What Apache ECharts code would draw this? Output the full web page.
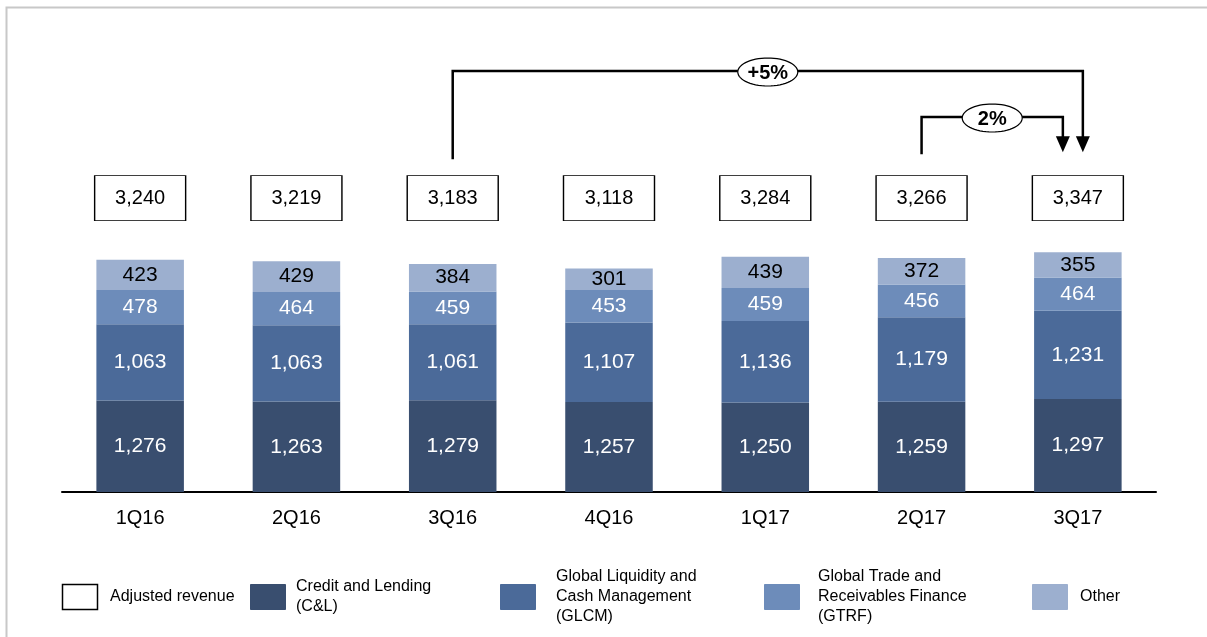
<!DOCTYPE html>
<html>
<head>
<meta charset="utf-8">
<script src="https://cdn.jsdelivr.net/npm/echarts@6/dist/echarts.min.js"></script>
<style>
html,body{margin:0;padding:0;background:#fff;}
#chart{width:1207px;height:637px;}
</style>
</head>
<body>
<div id="chart"></div>
<script>
const categories = ['1Q16', '2Q16', '3Q16', '4Q16', '1Q17', '2Q17', '3Q17'];
const creditLending = [1276, 1263, 1279, 1257, 1250, 1259, 1297];
const glcm = [1063, 1063, 1061, 1107, 1136, 1179, 1231];
const gtrf = [478, 464, 459, 453, 459, 456, 464];
const other = [423, 429, 384, 301, 439, 372, 355];
const adjustedRevenue = [3240, 3219, 3183, 3118, 3284, 3266, 3347];
const growthNotes = [
  { from: '3Q16', to: '3Q17', text: '+5%' },
  { from: '2Q17', to: '3Q17', text: '2%' }
];
const legendItems = [
  { name: 'Adjusted revenue', lines: ['Adjusted revenue'] },
  { name: 'Credit and Lending (C&L)', lines: ['Credit and Lending', '(C&L)'] },
  { name: 'Global Liquidity and Cash Management (GLCM)', lines: ['Global Liquidity and', 'Cash Management', '(GLCM)'] },
  { name: 'Global Trade and Receivables Finance (GTRF)', lines: ['Global Trade and', 'Receivables Finance', '(GTRF)'] },
  { name: 'Other', lines: ['Other'] }
];

const COLORS = ['#394e6f', '#4b6a99', '#6d8cba', '#9cafcf'];
const FONT = 'Liberation Sans, Arial, sans-serif';
const BOX_LEVEL = 4100;
const fmt = v => Number(v).toLocaleString('en-US');

const chart = echarts.init(document.getElementById('chart'), null, { renderer: 'canvas' });

function barSeries(name, data, color, labelColor) {
  return {
    name: name, type: 'bar', stack: 'rev', data: data, barWidth: '56%',
    itemStyle: { color: color },
    label: { show: true, position: 'inside', color: labelColor, fontSize: 21, fontFamily: FONT, formatter: p => fmt(p.value) },
    silent: true
  };
}

chart.setOption({
  animation: false,
  backgroundColor: '#ffffff',
  grid: { left: 62, right: 51, top: 62, bottom: 145 },
  xAxis: {
    type: 'category', data: categories,
    axisLine: { lineStyle: { color: '#000', width: 2 } },
    axisTick: { show: false },
    axisLabel: { color: '#000', fontSize: 20, fontFamily: FONT, margin: 16 }
  },
  yAxis: { type: 'value', min: 0, max: 6000, show: false, splitLine: { show: false } },
  series: [
    barSeries('Credit and Lending (C&L)', creditLending, COLORS[0], '#fff'),
    barSeries('Global Liquidity and Cash Management (GLCM)', glcm, COLORS[1], '#fff'),
    barSeries('Global Trade and Receivables Finance (GTRF)', gtrf, COLORS[2], '#fff'),
    barSeries('Other', other, COLORS[3], '#000'),
    {
      name: 'Adjusted revenue', type: 'scatter',
      data: adjustedRevenue.map((v, i) => ({ value: [categories[i], BOX_LEVEL], total: v })),
      symbol: 'rect', symbolSize: [91, 45],
      itemStyle: { color: '#fff', borderColor: '#000', borderWidth: 1, opacity: 1 },
      label: { show: true, position: 'inside', color: '#000', fontSize: 20, fontFamily: FONT, formatter: p => fmt(p.data.total) },
      silent: true
    }
  ]
});

function px(cat, val) {
  return chart.convertToPixel({ gridIndex: 0 }, [categories.indexOf(cat), val]);
}

function ellipsePoints(cx, cy, rx, ry) {
  const pts = [];
  for (let k = 0; k < 60; k++) {
    const a = (k / 60) * Math.PI * 2;
    pts.push([cx + rx * Math.cos(a), cy + ry * Math.sin(a)]);
  }
  return pts;
}

const graphics = [];
// frame
graphics.push({ type: 'rect', shape: { x: 6.5, y: 7.5, width: 1300, height: 700 }, style: { fill: null, stroke: '#c8c8c8', lineWidth: 2 }, silent: true });

// growth brackets
const bracketCfg = [
  { levelY: 71, startOff: 16, arrowDx: 5 },
  { levelY: 117, startOff: 21, arrowDx: -15 }
];
growthNotes.forEach((g, idx) => {
  const cfg = bracketCfg[idx];
  const a = px(g.from, BOX_LEVEL);
  const b = px(g.to, BOX_LEVEL);
  const boxTop = a[1] - 23;
  const x1 = a[0], x2 = b[0] + cfg.arrowDx;
  const yTop = cfg.levelY;
  const yStart = boxTop - cfg.startOff;
  const tipY = boxTop - 23;
  graphics.push({ type: 'polyline', shape: { points: [[x1, yStart], [x1, yTop], [x2, yTop], [x2, tipY - 14]] }, style: { stroke: '#000', lineWidth: 2.5, fill: null }, silent: true });
  graphics.push({ type: 'polygon', shape: { points: [[x2 - 7, tipY - 16], [x2 + 7, tipY - 16], [x2, tipY]] }, style: { fill: '#000' }, silent: true });
  const cx = (x1 + x2) / 2;
  graphics.push({ type: 'polygon', shape: { points: ellipsePoints(cx, yTop + 1, 30, 14) }, style: { fill: '#fff', stroke: '#000', lineWidth: 1.2 }, silent: true });
  graphics.push({ type: 'text', style: { text: g.text, x: cx, y: yTop + 2, align: 'center', verticalAlign: 'middle', fill: '#000', font: 'bold 20px ' + FONT }, silent: true });
});

// legend
const legendPos = [
  { sx: 62, tx: 110, fill: '#fff', stroke: '#000' },
  { sx: 250, tx: 296, fill: COLORS[0] },
  { sx: 500, tx: 556, fill: COLORS[1] },
  { sx: 764, tx: 818, fill: COLORS[2] },
  { sx: 1032, tx: 1080, fill: COLORS[3] }
];
const legendCY = 597;
legendItems.forEach((it, i) => {
  const p = legendPos[i];
  graphics.push({ type: 'rect', shape: { x: p.sx + 0.5, y: legendCY - 12.5, width: 35, height: 25 }, style: { fill: p.fill, stroke: p.stroke || p.fill, lineWidth: p.stroke ? 1.5 : 1 }, silent: true });
  graphics.push({ type: 'text', style: { text: it.lines.join('\n'), x: p.tx, y: legendCY, align: 'left', verticalAlign: 'middle', fill: '#000', font: '16px ' + FONT, lineHeight: 20 }, silent: true });
});

chart.setOption({ graphic: graphics });
</script>
</body>
</html>
